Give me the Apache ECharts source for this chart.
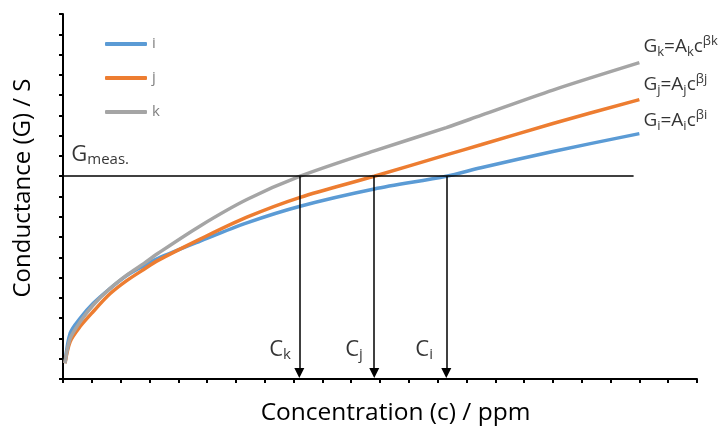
<!DOCTYPE html>
<html>
<head>
<meta charset="utf-8">
<script src="https://cdn.jsdelivr.net/npm/echarts@6/dist/echarts.min.js"></script>
<style>
html,body{margin:0;padding:0;background:#fff;}
#chart{width:721px;height:431px;}
</style>
</head>
<body>
<div id="chart"></div>
<script>
// ---- data ----
const seriesNames = ['i', 'j', 'k'];
const concentration = [0.07, 0.25, 0.6, 1.05, 1.63, 2.21, 2.8, 3.3, 4.76, 6.38, 8.23, 10.8, 13.3, 14.5, 17, 20];
const conductanceI = [0.78, 2.26, 3.0, 3.73, 4.46, 5.1, 5.58, 5.95, 6.8, 7.7, 8.52, 9.37, 10.0, 10.42, 11.22, 12.1];
const conductanceJ = [0.78, 1.85, 2.6, 3.33, 4.2, 4.85, 5.4, 5.85, 6.9, 7.98, 8.96, 10.0, 11.05, 11.55, 12.6, 13.78];
const conductanceK = [0.78, 2.0, 2.83, 3.65, 4.46, 5.12, 5.69, 6.2, 7.55, 8.85, 10.0, 11.25, 12.4, 13.0, 14.25, 15.6];
const gMeas = 10;
const gMeasEnd = 19.8;
const crossingK = 8.2, crossingJ = 10.8, crossingI = 13.3;
const crossings = [crossingK, crossingJ, crossingI];
const crossingLabels = ['k', 'j', 'i'];
const xMax = 22, yMax = 18;

const FONT = '"Open Sans", sans-serif';
const colors = {i: '#5B9BD5', j: '#ED7D31', k: '#A5A5A5'};

const pairs = (xs, ys) => xs.map((x, n) => [x, ys[n]]);
const curves = {i: conductanceI, j: conductanceJ, k: conductanceK};

const richEq = {
  m: {fontFamily: FONT, fontSize: 19, lineHeight: 24, color: '#000'},
  s: {fontFamily: FONT, fontSize: 13, lineHeight: 12, verticalAlign: 'bottom', color: '#000'},
  p: {fontFamily: FONT, fontSize: 13, lineHeight: 14, verticalAlign: 'top', color: '#000'},
  q: {fontFamily: FONT, fontSize: 13, lineHeight: 18, verticalAlign: 'top', color: '#000'}
};
const richC = {
  m: {fontFamily: FONT, fontSize: 22, lineHeight: 26, color: '#000'},
  s: {fontFamily: FONT, fontSize: 15, lineHeight: 8, verticalAlign: 'bottom', color: '#000'}
};
const eqText = n => '{m|G}{s|' + n + '}{m|=A}{s|' + n + '}{m|c}{p|β}{q|' + n + '}';

const annotations = [
  {value: [1.29, 11.06], label: {show: true, position: 'inside', rich: richC, formatter: () => '{m|G}{s|meas.}'}},
  {value: [20.14, 16.4], label: {show: true, position: 'right', distance: 0, rich: richEq, formatter: () => eqText('k')}},
  {value: [20.14, 14.5], label: {show: true, position: 'right', distance: 0, rich: richEq, formatter: () => eqText('j')}},
  {value: [20.14, 12.75], label: {show: true, position: 'right', distance: 0, rich: richEq, formatter: () => eqText('i')}}
];
const cLabelX = [7.53, 10.1, 12.53];
cLabelX.forEach((x, n) => {
  annotations.push({value: [x, 1.45], label: {show: true, position: 'inside', rich: richC,
    formatter: () => '{m|C}{s|' + crossingLabels[n] + '}'}});
});

const arrowEnd = 0.3;
const markLines = [
  [{coord: [0, gMeas], symbol: 'none'}, {coord: [gMeasEnd, gMeas], symbol: 'none'}]
].concat(crossings.map(c => [{coord: [c, gMeas], symbol: 'none'}, {coord: [c, arrowEnd], symbol: 'triangle', symbolSize: [10, 10]}]));

const axisCommon = {
  type: 'value',
  axisLine: {show: true, lineStyle: {color: '#000', width: 2}},
  axisTick: {show: true, inside: false, length: 4, lineStyle: {color: '#000', width: 2}},
  axisLabel: {show: false},
  splitLine: {show: false},
  nameLocation: 'middle'
};

const option = {
  animation: false,
  grid: {left: 63, right: 24, top: 14, bottom: 50, containLabel: false},
  xAxis: Object.assign({}, axisCommon, {
    min: 0, max: xMax, interval: 1,
    name: 'Concentration (c) / ppm', nameGap: 22,
    nameTextStyle: {fontFamily: FONT, fontSize: 24.5, color: '#000', padding: [0, 0, 0, 31]}
  }),
  yAxis: Object.assign({}, axisCommon, {
    min: 0, max: yMax, interval: 1,
    name: 'Conductance (G) / S', nameGap: 28,
    nameTextStyle: {fontFamily: FONT, fontSize: 24, color: '#000', padding: [0, 0, 0, 17]}
  }),
  legend: {
    data: seriesNames, orient: 'vertical', left: 100, top: 31,
    icon: 'roundRect', itemWidth: 42, itemHeight: 4, itemGap: 18,
    textStyle: {fontFamily: FONT, fontSize: 15, color: '#808080', lineHeight: 16}
  },
  series: seriesNames.map(n => ({
    name: n, type: 'line', data: pairs(concentration, curves[n]),
    smooth: 0.3, showSymbol: false, silent: true,
    lineStyle: {width: 3.5, color: colors[n]}, itemStyle: {color: colors[n]}
  })).concat([{
    name: 'annotations', type: 'scatter', data: annotations, symbolSize: 0, silent: true,
    markLine: {silent: true, animation: false, symbol: ['none', 'none'],
      label: {show: false}, lineStyle: {color: '#000', width: 1.5, type: 'solid'},
      emphasis: {disabled: true}, data: markLines}
  }])
};

const chart = echarts.init(document.getElementById('chart'), null, {renderer: 'canvas'});
chart.setOption(option);
</script>
</body>
</html>
